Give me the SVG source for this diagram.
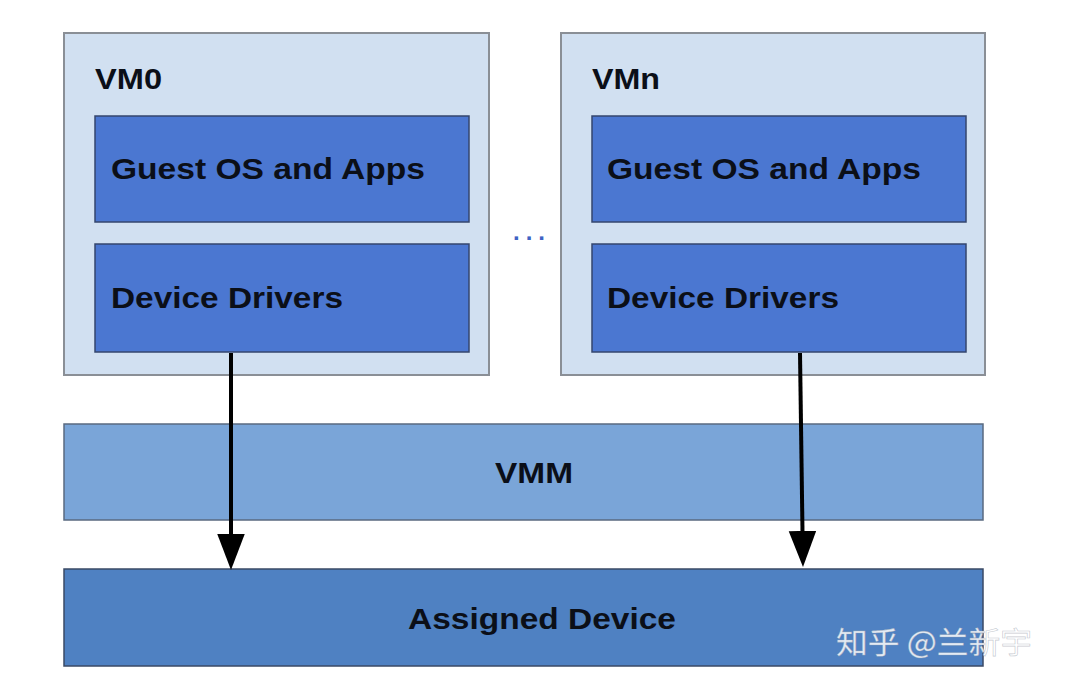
<svg xmlns="http://www.w3.org/2000/svg" width="1068" height="684" viewBox="0 0 1068 684">
<defs>
<style>
.vm{fill:#d1e0f1;stroke:#8a8f96;stroke-width:2}
.inner{fill:#4b77d1;stroke:#34466e;stroke-width:1.5}
.vmm{fill:#7aa5d8;stroke:#5a6a80;stroke-width:1.5}
.dev{fill:#4f81c2;stroke:#3a4a66;stroke-width:1.5}
.t{font-family:"Liberation Sans",Arial,sans-serif;font-weight:bold;font-size:30px;fill:#0b0f18}
.arrow{stroke:#000;stroke-width:4;fill:none}
.wm{font-family:"Noto Sans CJK SC",sans-serif;font-size:30px;fill:#ffffff;fill-opacity:0.85;stroke:#9aa4b0;stroke-width:0.6;stroke-opacity:0.6}
</style>
<marker id="ah" markerUnits="userSpaceOnUse" markerWidth="36" markerHeight="28" refX="1" refY="13" orient="auto" viewBox="0 0 34 26">
<path d="M0,0 L34,13 L0,26 Z" fill="#000"/>
</marker>
</defs>
<rect width="1068" height="684" fill="#ffffff"/>
<g id="vm0">
<rect class="vm" x="64" y="33" width="425" height="342"/>
<text class="t" x="95" y="89" textLength="67" lengthAdjust="spacingAndGlyphs">VM0</text>
</g>
<g id="vm0-guest">
<rect class="inner" x="95" y="116" width="374" height="106"/>
<text class="t" x="111" y="179" textLength="314" lengthAdjust="spacingAndGlyphs">Guest OS and Apps</text>
</g>
<g id="vm0-drivers">
<rect class="inner" x="95" y="244" width="374" height="108"/>
<text class="t" x="111" y="308" textLength="232" lengthAdjust="spacingAndGlyphs">Device Drivers</text>
</g>
<g id="dots">
<text x="513" y="240" font-family="Liberation Sans,Arial,sans-serif" font-weight="bold" font-size="24" fill="#3f63c4" letter-spacing="6">...</text>
</g>
<g id="vmn">
<rect class="vm" x="561" y="33" width="424" height="342"/>
<text class="t" x="592" y="89" textLength="68" lengthAdjust="spacingAndGlyphs">VMn</text>
</g>
<g id="vmn-guest">
<rect class="inner" x="592" y="116" width="374" height="106"/>
<text class="t" x="607" y="179" textLength="314" lengthAdjust="spacingAndGlyphs">Guest OS and Apps</text>
</g>
<g id="vmn-drivers">
<rect class="inner" x="592" y="244" width="374" height="108"/>
<text class="t" x="607" y="308" textLength="232" lengthAdjust="spacingAndGlyphs">Device Drivers</text>
</g>
<g id="vmm">
<rect class="vmm" x="64" y="424" width="919" height="96"/>
<text class="t" x="534" y="483" text-anchor="middle" textLength="78" lengthAdjust="spacingAndGlyphs">VMM</text>
</g>
<g id="assigned">
<rect class="dev" x="64" y="569" width="919" height="97"/>
<text class="t" x="542" y="629" text-anchor="middle" textLength="268" lengthAdjust="spacingAndGlyphs">Assigned Device</text>
</g>
<g id="connectors">
<line class="arrow" x1="231" y1="353" x2="231" y2="535" marker-end="url(#ah)"/>
<line class="arrow" x1="800" y1="353" x2="802.5" y2="532" marker-end="url(#ah)"/>
</g>
<g id="watermark">
<text class="wm" x="836" y="653" textLength="196" lengthAdjust="spacingAndGlyphs">知乎 @兰新宇</text>
</g>
</svg>
